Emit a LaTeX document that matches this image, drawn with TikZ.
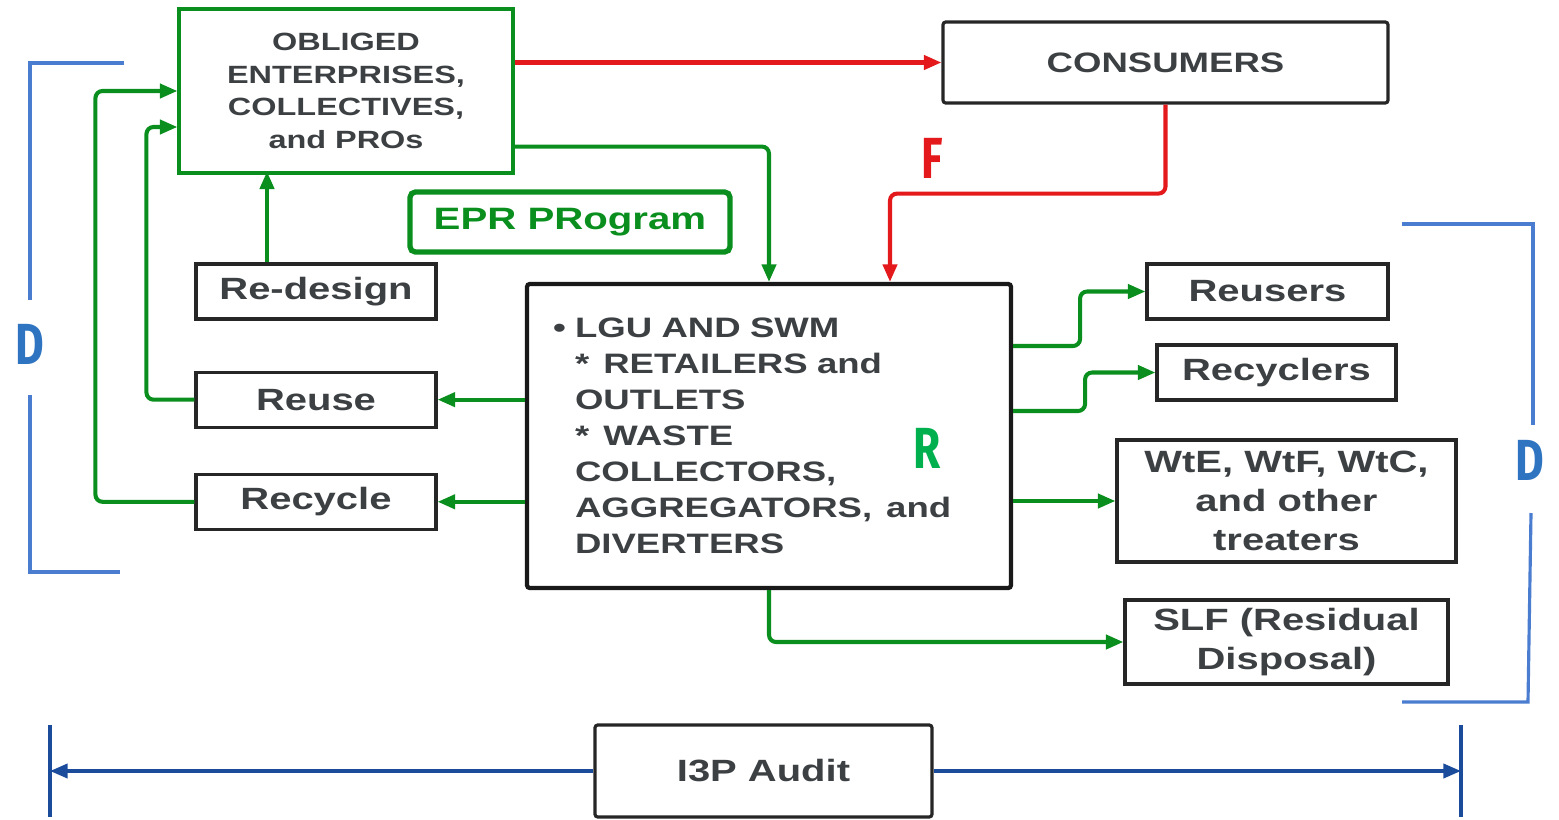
\documentclass[tikz,border=0pt]{standalone}
\usepackage{fontspec}
\setmainfont{Liberation Sans}[FakeStretch=1.3]
\newfontfamily\tagfont{Fira Sans}[FakeStretch=0.76]
\usetikzlibrary{positioning,calc,arrows.meta}

\definecolor{txtgrey}{HTML}{3C4043}
\definecolor{flowgreen}{HTML}{0A8F1E}
\definecolor{flowred}{HTML}{E3191B}
\definecolor{audblue}{HTML}{1B4C9C}
\definecolor{brkblue}{HTML}{4A7CCF}
\definecolor{tagblue}{HTML}{2F74C0}
\definecolor{taggreen}{HTML}{00B04F}

\begin{document}
\begin{tikzpicture}[x=0.02cm, y=-0.02cm,
        outbox/.style={rectangle, draw=black!85, line width=1.8pt, fill=white, text=txtgrey, font=\bfseries\fontsize{17.5}{22}\selectfont, align=center, inner sep=0pt},
        obliged/.style={rectangle, draw=flowgreen, line width=1.8pt, text=txtgrey, font=\bfseries\fontsize{14.2}{18.5}\selectfont, align=center, minimum width=6.68cm, minimum height=3.28cm},
        epr/.style={rectangle, rounded corners=3pt, draw=flowgreen, line width=3pt, text=flowgreen, font=\bfseries\fontsize{17.6}{22}\selectfont, minimum width=6.4cm, minimum height=1.2cm},
        hub/.style={rectangle, rounded corners=1.5pt, draw=black!90, line width=2.4pt, text=txtgrey, font=\bfseries\fontsize{16}{20.5}\selectfont, align=left, text width=8.64cm, inner xsep=0.52cm, minimum height=6.08cm},
        flow/.style={-{Triangle[length=10pt,width=8pt]}, flowgreen, line width=2.3pt, rounded corners=4pt},
        redflow/.style={-{Triangle[length=10pt,width=8pt]}, flowred, line width=2.3pt, rounded corners=4pt},
        audit/.style={-{Triangle[length=10pt,width=8pt]}, audblue, line width=2pt},
        bracket/.style={brkblue, line width=1.8pt},
        tag/.style={font=\tagfont\bfseries\fontsize{33}{33}\selectfont, inner sep=0pt},
    ]
    \useasboundingbox (0,0) rectangle (1559,819);

    \node[obliged] (Obliged) at (346,91) {OBLIGED\\ENTERPRISES,\\COLLECTIVES,\\and PROs};
    \node[outbox, rounded corners=1.5pt, minimum width=8.9cm, minimum height=1.62cm, font=\bfseries\fontsize{16}{20}\selectfont] (Consumers) at (1165.5,62.5) {CONSUMERS};
    \node[epr] (EPR) at (570,222) {EPR PRogram};
    \node[outbox, minimum width=4.8cm, minimum height=1.1cm] (Redesign) at (316,291.5) {Re-design};
    \node[outbox, minimum width=4.8cm, minimum height=1.1cm] (Reuse) [below=1.0cm of Redesign] {Reuse};
    \node[outbox, minimum width=4.8cm, minimum height=1.1cm] (Recycle) [below=0.88cm of Reuse] {Recycle};
    \node[hub] (Hub) at (769,436) {\makebox[0.44cm][l]{\textbullet}LGU AND SWM\\
        \hspace*{0.44cm}*\enspace RETAILERS and\\
        \hspace*{0.44cm}OUTLETS\\
        \hspace*{0.44cm}*\enspace WASTE\\
        \hspace*{0.44cm}COLLECTORS,\\
        \hspace*{0.44cm}AGGREGATORS,\enspace and\\
        \hspace*{0.44cm}DIVERTERS};
    \node[outbox, minimum width=4.82cm, minimum height=1.1cm] (Reusers) at (1267.5,291.5) {Reusers};
    \node[outbox, minimum width=4.78cm, minimum height=1.1cm] (Recyclers) at (1276.5,372.5) {Recyclers};
    \node[outbox, minimum width=6.78cm, minimum height=2.44cm] (Treaters) at (1286.5,501) {WtE, WtF, WtC,\\and other\\treaters};
    \node[outbox, minimum width=6.46cm, minimum height=1.68cm] (SLF) at (1286.5,642) {SLF (Residual\\Disposal)};
    \node[outbox, rounded corners=1.5pt, minimum width=6.74cm, minimum height=1.84cm] (Audit) at (763.5,771) {I3P Audit};

    \node[tag, text=flowred] (F) at (932,158) {F};
    \node[tag, text=taggreen] (R) at (927,448) {R};
    \node[tag, text=tagblue] (DLeft) at (30,344) {D};
    \node[tag, text=tagblue] (DRight) at (1530,460) {D};

    % flows out of the producers
    \draw[redflow] (Obliged.east |- Consumers.west) -- (Consumers.west);
    \draw[redflow] (Consumers.south) -- ++(0,89) -| ($(Hub.north)+(121,0)$);
    \draw[flow] ($(Obliged.south east)+(0,-28)$) -| (Hub.north);

    % loops back to the producers
    \draw[flow] ([xshift=-0.98cm]Redesign.north) -- ++(0,-91);
    \draw[flow] (Reuse.west) -- ++(-48,0) |- ($(Obliged.west)+(0,36)$);
    \draw[flow] (Recycle.west) -- ++(-99,0) |- (Obliged.west);
    \draw[flow] (Hub.west |- Reuse.east) -- (Reuse.east);
    \draw[flow] (Hub.west |- Recycle.east) -- (Recycle.east);

    % flows to the diverters
    \draw[flow] ($(Hub.east)+(0,-90)$) -- ++(67,0) |- (Reusers.west);
    \draw[flow] ($(Hub.east)+(0,-25)$) -- ++(72,0) |- (Recyclers.west);
    \draw[flow] (Hub.east |- Treaters.west) -- (Treaters.west);
    \draw[flow] (Hub.south) |- (SLF.west);

    % audit span
    \coordinate (BarL) at (50,771);
    \coordinate (BarR) at (1461,771);
    \draw[audblue, line width=2.6pt] (50,725) -- (50,817);
    \draw[audblue, line width=2.6pt] (1461,725) -- (1461,817);
    \draw[audit] (Audit.west) -- (BarL);
    \draw[audit] (Audit.east) -- (BarR);

    % brackets
    \draw[bracket] (124,63) -- (30,63) -- (30,300);
    \draw[bracket] (30,395) -- (30,572) -- (120,572);
    \draw[bracket] (1402,224) -- (1533,224) -- (1533,425);
    \draw[bracket] (1531,513) -- (1528,702) -- (1402,702);
\end{tikzpicture}
\end{document}
